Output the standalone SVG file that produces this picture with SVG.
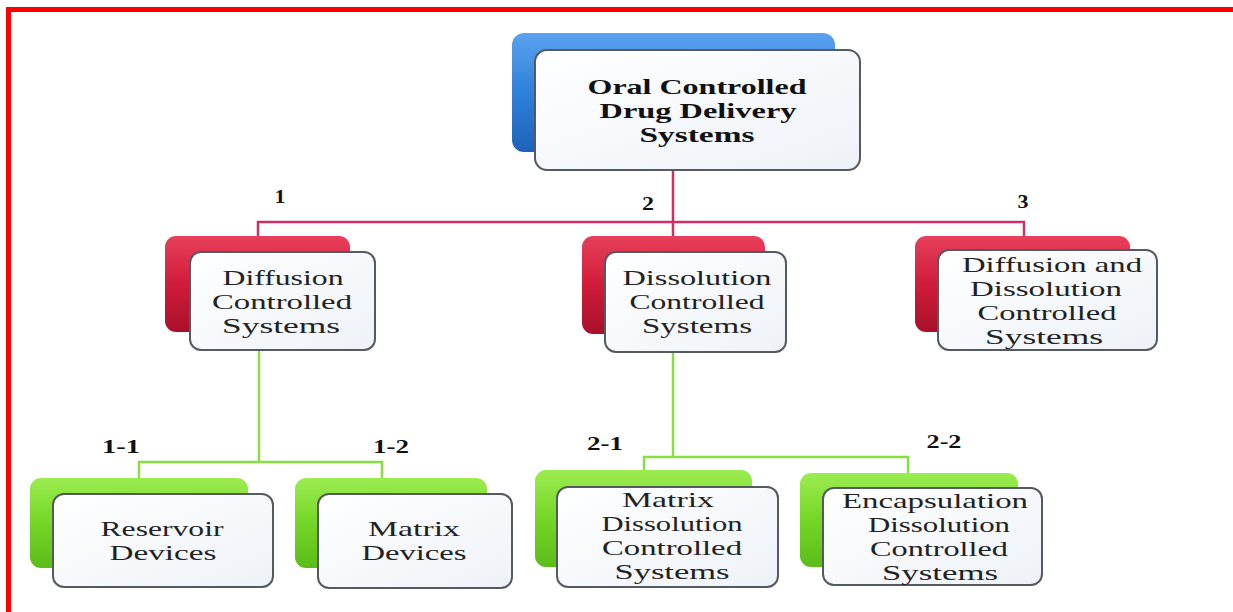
<svg xmlns="http://www.w3.org/2000/svg" width="1233" height="612" viewBox="0 0 1233 612">
<defs>
<linearGradient id="gBlue" x1="0" y1="0" x2="0" y2="1"><stop offset="0" stop-color="#5aa2ee"/><stop offset="0.5" stop-color="#2f80da"/><stop offset="1" stop-color="#1f62b8"/></linearGradient>
<linearGradient id="gRed" x1="0" y1="0" x2="0" y2="1"><stop offset="0" stop-color="#e8405a"/><stop offset="0.5" stop-color="#d01c3a"/><stop offset="1" stop-color="#a8102a"/></linearGradient>
<linearGradient id="gGreen" x1="0" y1="0" x2="0" y2="1"><stop offset="0" stop-color="#9cec50"/><stop offset="0.5" stop-color="#74d626"/><stop offset="1" stop-color="#5cbc1a"/></linearGradient>
<linearGradient id="gFront" x1="0" y1="0" x2="1" y2="1"><stop offset="0" stop-color="#ffffff"/><stop offset="1" stop-color="#eef2f8"/></linearGradient>
</defs>
<style>
.front{fill:url(#gFront);stroke:#555a60;stroke-width:2}
.blue{fill:url(#gBlue)}
.red{fill:url(#gRed)}
.green{fill:url(#gGreen)}
.t{font-family:"Liberation Serif",serif;font-size:21.5px;fill:#222;text-anchor:middle}
.tb{font-family:"Liberation Serif",serif;font-size:21.5px;font-weight:bold;fill:#111;text-anchor:middle}
.lab{font-family:"Liberation Serif",serif;font-size:19px;font-weight:bold;fill:#111;text-anchor:middle}
.cr{fill:none;stroke:#cf2f62;stroke-width:2.5}
.cg{fill:none;stroke:#86e040;stroke-width:2.5}
</style>
<rect width="1233" height="612" fill="#fff"/>
<path d="M8.5,640 V9.5 H1250" fill="none" stroke="#ff0000" stroke-width="5"/>
<g id="connectors">
<path class="cr" d="M673,170 V222 M258,236 V222 H1024 V236 M673,222 V238"/>
<path class="cg" d="M259,350 V462 M139,478 V462 H382 V478"/>
<path class="cg" d="M673,352 V457 M644,470 V457 H908 V473"/>
</g>
<g id="labels">
<text class="lab" x="280" y="203" textLength="11" lengthAdjust="spacingAndGlyphs">1</text>
<text class="lab" x="648" y="210" textLength="12" lengthAdjust="spacingAndGlyphs">2</text>
<text class="lab" x="1023" y="208" textLength="11" lengthAdjust="spacingAndGlyphs">3</text>
<text class="lab" x="121" y="453" textLength="38" lengthAdjust="spacingAndGlyphs">1-1</text>
<text class="lab" x="391" y="453" textLength="36" lengthAdjust="spacingAndGlyphs">1-2</text>
<text class="lab" x="605" y="450" textLength="36" lengthAdjust="spacingAndGlyphs">2-1</text>
<text class="lab" x="944" y="448" textLength="35" lengthAdjust="spacingAndGlyphs">2-2</text>
</g>
<g id="root">
<rect class="blue" x="512" y="33" width="323" height="119" rx="12"/>
<rect class="front" x="535" y="50" width="325" height="120" rx="12"/>
<text class="tb" x="697" y="94" textLength="219" lengthAdjust="spacingAndGlyphs">Oral Controlled</text>
<text class="tb" x="698" y="118" textLength="197" lengthAdjust="spacingAndGlyphs">Drug Delivery</text>
<text class="tb" x="697" y="142" textLength="115" lengthAdjust="spacingAndGlyphs">Systems</text>
</g>
<g id="diffusion">
<rect class="red" x="165" y="236" width="185" height="96" rx="11"/>
<rect class="front" x="190" y="252" width="185" height="98" rx="11"/>
<text class="t" x="283" y="285" textLength="121" lengthAdjust="spacingAndGlyphs">Diffusion</text>
<text class="t" x="282" y="309" textLength="140" lengthAdjust="spacingAndGlyphs">Controlled</text>
<text class="t" x="281" y="333" textLength="118" lengthAdjust="spacingAndGlyphs">Systems</text>
</g>
<g id="dissolution">
<rect class="red" x="582" y="236" width="183" height="98" rx="11"/>
<rect class="front" x="605" y="252" width="181" height="100" rx="11"/>
<text class="t" x="697" y="285" textLength="149" lengthAdjust="spacingAndGlyphs">Dissolution</text>
<text class="t" x="697" y="309" textLength="135" lengthAdjust="spacingAndGlyphs">Controlled</text>
<text class="t" x="697" y="333" textLength="110" lengthAdjust="spacingAndGlyphs">Systems</text>
</g>
<g id="diffdiss">
<rect class="red" x="915" y="236" width="215" height="96" rx="11"/>
<rect class="front" x="938" y="250" width="219" height="100" rx="11"/>
<text class="t" x="1052" y="272" textLength="180" lengthAdjust="spacingAndGlyphs">Diffusion and</text>
<text class="t" x="1046" y="296" textLength="152" lengthAdjust="spacingAndGlyphs">Dissolution</text>
<text class="t" x="1047" y="320" textLength="139" lengthAdjust="spacingAndGlyphs">Controlled</text>
<text class="t" x="1044" y="344" textLength="118" lengthAdjust="spacingAndGlyphs">Systems</text>
</g>
<g id="reservoir">
<rect class="green" x="30" y="478" width="218" height="90" rx="11"/>
<rect class="front" x="53" y="494" width="220" height="93" rx="11"/>
<text class="t" x="162" y="536" textLength="123" lengthAdjust="spacingAndGlyphs">Reservoir</text>
<text class="t" x="163" y="560" textLength="107" lengthAdjust="spacingAndGlyphs">Devices</text>
</g>
<g id="matrixdev">
<rect class="green" x="295" y="478" width="192" height="90" rx="11"/>
<rect class="front" x="318" y="494" width="194" height="94" rx="11"/>
<text class="t" x="414" y="536" textLength="92" lengthAdjust="spacingAndGlyphs">Matrix</text>
<text class="t" x="414" y="560" textLength="105" lengthAdjust="spacingAndGlyphs">Devices</text>
</g>
<g id="matrixdiss">
<rect class="green" x="535" y="470" width="217" height="97" rx="11"/>
<rect class="front" x="557" y="487" width="221" height="100" rx="11"/>
<text class="t" x="668" y="507" textLength="92" lengthAdjust="spacingAndGlyphs">Matrix</text>
<text class="t" x="672" y="531" textLength="141" lengthAdjust="spacingAndGlyphs">Dissolution</text>
<text class="t" x="672" y="555" textLength="140" lengthAdjust="spacingAndGlyphs">Controlled</text>
<text class="t" x="672" y="579" textLength="115" lengthAdjust="spacingAndGlyphs">Systems</text>
</g>
<g id="encaps">
<rect class="green" x="800" y="473" width="218" height="94" rx="11"/>
<rect class="front" x="823" y="488" width="219" height="97" rx="11"/>
<text class="t" x="935" y="508" textLength="186" lengthAdjust="spacingAndGlyphs">Encapsulation</text>
<text class="t" x="939" y="532" textLength="142" lengthAdjust="spacingAndGlyphs">Dissolution</text>
<text class="t" x="939" y="556" textLength="138" lengthAdjust="spacingAndGlyphs">Controlled</text>
<text class="t" x="940" y="580" textLength="116" lengthAdjust="spacingAndGlyphs">Systems</text>
</g>
</svg>
